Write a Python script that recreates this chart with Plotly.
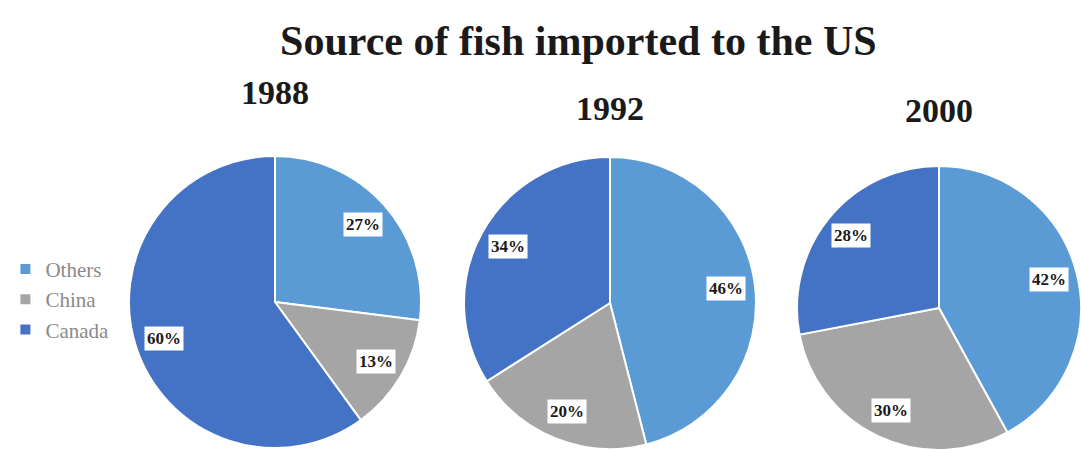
import math
import plotly.graph_objects as go

# ---- data ----
categories = ["Others", "China", "Canada"]
years = ["1988", "1992", "2000"]
values_1988 = [27, 13, 60]
values_1992 = [46, 20, 34]
values_2000 = [42, 30, 28]
all_values = [values_1988, values_1992, values_2000]

colors = ["#5B9BD5", "#A5A5A5", "#4472C4"]

W, H = 1081, 450
# pie layout (pixel centers / radii) -> domains
pie_centers = [(275, 302), (610, 303), (939, 308)]
pie_radii = [146, 146, 142]
title_y_px = [92, 108, 110]
LABEL_R = 0.8

fig = go.Figure()
annotations = []
for i, (vals, yr) in enumerate(zip(all_values, years)):
    cx, cy = pie_centers[i]
    r = pie_radii[i]
    x0, x1 = (cx - r) / W, (cx + r) / W
    y0, y1 = (H - cy - r) / H, (H - cy + r) / H
    x0, x1 = max(0, x0), min(1, x1)
    y0, y1 = max(0, y0), min(1, y1)
    fig.add_trace(go.Pie(
        labels=categories, values=vals, name=yr,
        domain=dict(x=[x0, x1], y=[y0, y1]),
        sort=False, direction="clockwise", rotation=0,
        marker=dict(colors=colors, line=dict(color="white", width=2)),
        textinfo="none", hoverinfo="label+percent",
        showlegend=(i == 0),
    ))
    # value labels, positioned at slice mid-angles computed from data
    total = sum(vals)
    acc = 0
    for v in vals:
        mid = (acc + v / 2) / total * 2 * math.pi
        acc += v
        lx = cx + LABEL_R * r * math.sin(mid)
        ly = cy - LABEL_R * r * math.cos(mid)
        annotations.append(dict(
            x=lx / W, y=(H - ly) / H, xref="paper", yref="paper",
            text=f"<b>{v}%</b>", showarrow=False, bgcolor="white",
            font=dict(family="Liberation Serif", size=17, color="#1a1a1a"),
            borderpad=2, xanchor="center", yanchor="middle",
        ))
    annotations.append(dict(
        x=cx / W, y=(H - title_y_px[i]) / H, xref="paper", yref="paper",
        text=f"<b>{yr}</b>", showarrow=False,
        font=dict(family="Liberation Serif", size=34, color="#1a1a1a"),
        xanchor="center", yanchor="middle",
    ))

fig.update_layout(
    width=W, height=H,
    margin=dict(l=0, r=0, t=0, b=0),
    paper_bgcolor="white", plot_bgcolor="white",
    title=dict(text="<b>Source of fish imported to the US</b>", x=0.535, xanchor="center",
               y=0.91, yanchor="middle",
               font=dict(family="Liberation Serif", size=42, color="#1a1a1a")),
    legend=dict(x=0.005, y=0.335, xanchor="left", yanchor="middle",
                font=dict(family="Liberation Serif", size=21, color="#8a8a8a"),
                bgcolor="rgba(0,0,0,0)", traceorder="normal"),
    annotations=annotations,
)

fig.write_html("out.html", config={"displayModeBar": False},
               post_script="document.body.style.margin='0px';")
